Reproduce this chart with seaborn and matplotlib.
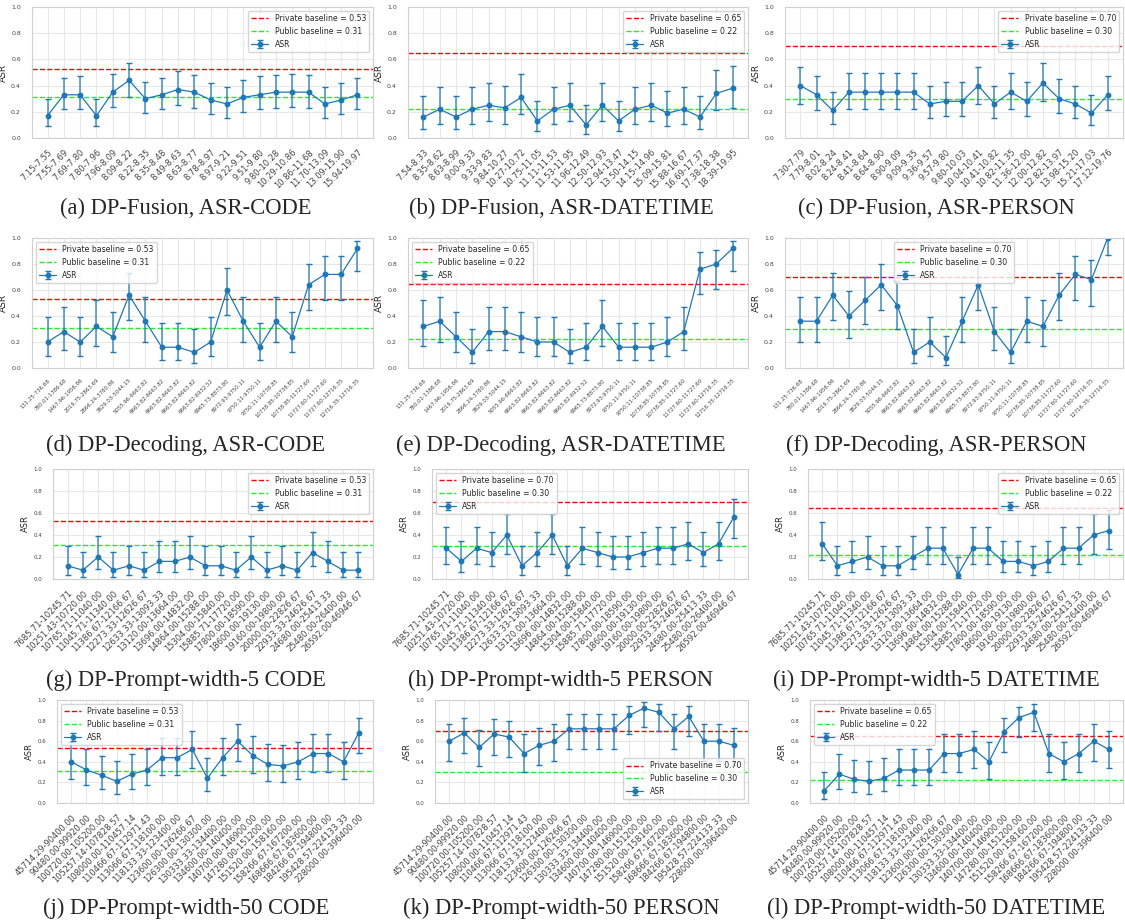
import numpy as np
import matplotlib
matplotlib.use("Agg")
import matplotlib.pyplot as plt
from matplotlib.ticker import FormatStrFormatter
import seaborn as sns

# ---- bin labels ----
fusion_code_bins = ["7.15-7.55", "7.55-7.69", "7.69-7.80", "7.80-7.96", "7.96-8.09",
                    "8.09-8.22", "8.22-8.35", "8.35-8.48", "8.49-8.63", "8.63-8.77",
                    "8.78-8.97", "8.97-9.21", "9.22-9.51", "9.51-9.80", "9.80-10.28",
                    "10.29-10.86", "10.86-11.68", "11.70-13.09", "13.09-15.90", "15.94-19.97"]
fusion_date_bins = ["7.54-8.33", "8.35-8.62", "8.63-8.99", "9.00-9.33", "9.33-9.83",
                    "9.84-10.27", "10.27-10.72", "10.75-11.05", "11.11-11.53", "11.53-11.95",
                    "11.96-12.49", "12.50-12.93", "12.94-13.47", "13.50-14.15", "14.15-14.96",
                    "15.09-15.81", "15.88-16.67", "16.69-17.37", "17.38-18.38", "18.39-19.95"]
fusion_person_bins = ["7.30-7.79", "7.79-8.01", "8.02-8.24", "8.24-8.41", "8.41-8.64",
                      "8.64-8.90", "8.90-9.09", "9.09-9.35", "9.36-9.57", "9.57-9.80",
                      "9.80-10.03", "10.04-10.41", "10.41-10.82", "10.82-11.35", "11.36-12.00",
                      "12.00-12.82", "12.82-13.97", "13.98-15.20", "15.21-17.03", "17.12-19.76"]
decoding_bins = ["131.25-736.68", "780.01-1386.68", "1467.96-1956.86", "2019.75-2863.69",
                 "2866.24-3780.86", "3829.03-5044.15", "5055.96-6663.82", "6663.82-6663.82",
                 "6663.82-6663.82", "6663.82-6663.82", "6663.82-6932.52", "6965.73-8873.80",
                 "8972.93-9750.11", "9750.11-9750.11", "9750.11-10738.85", "10738.85-10738.85",
                 "10738.85-11727.60", "11727.60-11727.60", "11727.60-12716.35", "12716.35-12716.35"]
prompt5_bins = ["7685.71-10245.71", "10251.43-10720.00", "10765.71-11040.00", "11045.71-11340.00",
                "11386.67-12166.67", "12273.33-12626.67", "12633.33-13093.33", "13120.00-13664.00",
                "13696.00-14832.00", "14864.00-15288.00", "15304.00-15840.00", "15885.71-17720.00",
                "17800.00-18590.00", "18600.00-19130.00", "19160.00-19800.00", "20000.00-22826.67",
                "22933.33-24626.67", "24680.00-25413.33", "25480.00-26400.00", "26592.00-46946.67"]
prompt50_bins = ["45714.29-90400.00", "90480.00-99920.00", "100720.00-105200.00",
                 "105257.14-107828.57", "108000.00-110457.14", "110466.67-112971.43",
                 "113066.67-118100.00", "118133.33-123400.00", "123600.00-126266.67",
                 "126300.00-130300.00", "130333.33-134400.00", "134600.00-140400.00",
                 "140700.00-146900.00", "147280.00-151200.00", "151520.00-158160.00",
                 "158266.67-167200.00", "168666.67-183600.00", "184266.67-194800.00",
                 "195428.57-224133.33", "228000.00-396400.00"]

# ---- ASR values with lower / upper interval bounds ----
fusion_code_asr = [0.17, 0.33, 0.33, 0.17, 0.35, 0.44, 0.30, 0.33, 0.37, 0.35,
                   0.29, 0.26, 0.31, 0.33, 0.35, 0.35, 0.35, 0.26, 0.29, 0.33]
fusion_code_lo = [0.09, 0.22, 0.22, 0.09, 0.24, 0.31, 0.19, 0.22, 0.25, 0.23,
                  0.18, 0.15, 0.20, 0.22, 0.23, 0.24, 0.23, 0.15, 0.18, 0.22]
fusion_code_hi = [0.30, 0.46, 0.47, 0.30, 0.49, 0.57, 0.43, 0.46, 0.51, 0.48,
                  0.42, 0.39, 0.44, 0.47, 0.48, 0.49, 0.48, 0.39, 0.42, 0.46]

fusion_date_asr = [0.16, 0.22, 0.16, 0.22, 0.25, 0.23, 0.31, 0.13, 0.22, 0.25,
                   0.10, 0.25, 0.13, 0.22, 0.25, 0.19, 0.22, 0.16, 0.34, 0.38]
fusion_date_lo = [0.07, 0.11, 0.07, 0.11, 0.13, 0.11, 0.18, 0.05, 0.11, 0.13,
                  0.03, 0.13, 0.05, 0.11, 0.13, 0.09, 0.11, 0.07, 0.21, 0.23]
fusion_date_hi = [0.32, 0.39, 0.32, 0.39, 0.42, 0.40, 0.49, 0.28, 0.39, 0.42,
                  0.25, 0.42, 0.28, 0.39, 0.42, 0.36, 0.39, 0.32, 0.52, 0.55]

fusion_person_asr = [0.40, 0.33, 0.21, 0.35, 0.35, 0.35, 0.35, 0.35, 0.26, 0.28,
                     0.28, 0.40, 0.26, 0.35, 0.28, 0.42, 0.30, 0.26, 0.19, 0.33]
fusion_person_lo = [0.26, 0.21, 0.11, 0.22, 0.22, 0.22, 0.22, 0.22, 0.15, 0.17,
                    0.17, 0.26, 0.15, 0.22, 0.17, 0.28, 0.19, 0.15, 0.10, 0.21]
fusion_person_hi = [0.54, 0.47, 0.35, 0.50, 0.50, 0.50, 0.50, 0.50, 0.40, 0.43,
                    0.43, 0.54, 0.40, 0.50, 0.43, 0.57, 0.45, 0.40, 0.33, 0.47]

decoding_code_asr = [0.20, 0.28, 0.20, 0.32, 0.24, 0.56, 0.36, 0.16, 0.16, 0.12,
                     0.20, 0.60, 0.36, 0.16, 0.36, 0.24, 0.64, 0.72, 0.72, 0.92]
decoding_code_lo = [0.09, 0.14, 0.09, 0.17, 0.12, 0.37, 0.20, 0.06, 0.06, 0.04,
                    0.09, 0.41, 0.20, 0.06, 0.20, 0.12, 0.45, 0.52, 0.52, 0.75]
decoding_code_hi = [0.39, 0.47, 0.39, 0.52, 0.43, 0.73, 0.55, 0.35, 0.35, 0.30,
                    0.39, 0.77, 0.55, 0.35, 0.55, 0.43, 0.80, 0.86, 0.86, 0.98]

decoding_date_asr = [0.32, 0.36, 0.24, 0.12, 0.28, 0.28, 0.24, 0.20, 0.20, 0.12,
                     0.16, 0.32, 0.16, 0.16, 0.16, 0.20, 0.28, 0.76, 0.80, 0.92]
decoding_date_lo = [0.17, 0.20, 0.12, 0.04, 0.14, 0.14, 0.12, 0.09, 0.09, 0.04,
                    0.06, 0.17, 0.06, 0.06, 0.06, 0.09, 0.14, 0.57, 0.61, 0.75]
decoding_date_hi = [0.52, 0.55, 0.43, 0.30, 0.47, 0.47, 0.43, 0.39, 0.39, 0.30,
                    0.35, 0.52, 0.35, 0.35, 0.35, 0.39, 0.47, 0.89, 0.91, 0.98]

decoding_person_asr = [0.36, 0.36, 0.56, 0.40, 0.52, 0.64, 0.48, 0.12, 0.20, 0.08,
                       0.36, 0.64, 0.28, 0.12, 0.36, 0.32, 0.56, 0.72, 0.68, 1.00]
decoding_person_lo = [0.20, 0.20, 0.37, 0.23, 0.34, 0.45, 0.30, 0.04, 0.09, 0.02,
                      0.20, 0.45, 0.14, 0.04, 0.20, 0.17, 0.37, 0.52, 0.48, 0.87]
decoding_person_hi = [0.55, 0.55, 0.73, 0.59, 0.70, 0.80, 0.67, 0.30, 0.39, 0.25,
                      0.55, 0.80, 0.47, 0.30, 0.55, 0.52, 0.73, 0.86, 0.83, 1.00]

prompt5_code_asr = [0.12, 0.08, 0.20, 0.08, 0.12, 0.08, 0.16, 0.16, 0.20, 0.12,
                    0.12, 0.08, 0.20, 0.08, 0.12, 0.08, 0.24, 0.16, 0.08, 0.08]
prompt5_code_lo = [0.04, 0.02, 0.09, 0.02, 0.04, 0.02, 0.06, 0.06, 0.09, 0.04,
                   0.04, 0.02, 0.09, 0.02, 0.04, 0.02, 0.12, 0.06, 0.02, 0.02]
prompt5_code_hi = [0.30, 0.25, 0.39, 0.25, 0.30, 0.25, 0.35, 0.35, 0.39, 0.30,
                   0.30, 0.25, 0.39, 0.25, 0.30, 0.25, 0.43, 0.35, 0.25, 0.25]

prompt5_person_asr = [0.28, 0.16, 0.28, 0.24, 0.40, 0.12, 0.24, 0.40, 0.12, 0.28,
                      0.24, 0.20, 0.20, 0.24, 0.28, 0.28, 0.32, 0.24, 0.32, 0.56]
prompt5_person_lo = [0.14, 0.06, 0.14, 0.12, 0.23, 0.04, 0.12, 0.23, 0.04, 0.14,
                     0.12, 0.09, 0.09, 0.12, 0.14, 0.14, 0.17, 0.12, 0.17, 0.37]
prompt5_person_hi = [0.47, 0.35, 0.47, 0.43, 0.59, 0.30, 0.43, 0.59, 0.30, 0.47,
                     0.43, 0.39, 0.39, 0.43, 0.47, 0.47, 0.52, 0.43, 0.52, 0.73]

prompt5_date_asr = [0.32, 0.12, 0.16, 0.20, 0.12, 0.12, 0.20, 0.28, 0.28, 0.04,
                    0.28, 0.28, 0.16, 0.16, 0.12, 0.16, 0.28, 0.28, 0.40, 0.44]
prompt5_date_lo = [0.17, 0.04, 0.06, 0.09, 0.04, 0.04, 0.09, 0.14, 0.14, 0.01,
                   0.14, 0.14, 0.06, 0.06, 0.04, 0.06, 0.14, 0.14, 0.23, 0.27]
prompt5_date_hi = [0.52, 0.30, 0.35, 0.39, 0.30, 0.30, 0.39, 0.47, 0.47, 0.20,
                   0.47, 0.47, 0.35, 0.35, 0.30, 0.35, 0.47, 0.47, 0.59, 0.63]

prompt50_code_asr = [0.40, 0.32, 0.27, 0.21, 0.28, 0.32, 0.44, 0.44, 0.52, 0.24,
                     0.44, 0.60, 0.46, 0.375, 0.36, 0.40, 0.48, 0.48, 0.40, 0.68]
prompt50_code_lo = [0.23, 0.17, 0.14, 0.09, 0.14, 0.17, 0.27, 0.27, 0.34, 0.12,
                    0.27, 0.41, 0.29, 0.21, 0.20, 0.23, 0.30, 0.30, 0.23, 0.49]
prompt50_code_hi = [0.59, 0.52, 0.46, 0.41, 0.48, 0.52, 0.63, 0.63, 0.70, 0.44,
                    0.63, 0.77, 0.65, 0.57, 0.56, 0.59, 0.67, 0.67, 0.59, 0.83]

prompt50_person_asr = [0.60, 0.68, 0.54, 0.67, 0.64, 0.48, 0.56, 0.60, 0.72, 0.72,
                       0.72, 0.72, 0.85, 0.92, 0.88, 0.72, 0.84, 0.60, 0.60, 0.56]
prompt50_person_lo = [0.41, 0.49, 0.36, 0.47, 0.45, 0.30, 0.37, 0.41, 0.52, 0.52,
                      0.52, 0.52, 0.67, 0.74, 0.70, 0.52, 0.65, 0.41, 0.41, 0.37]
prompt50_person_hi = [0.77, 0.83, 0.71, 0.82, 0.80, 0.67, 0.73, 0.77, 0.86, 0.86,
                      0.86, 0.86, 0.94, 0.98, 0.96, 0.86, 0.94, 0.77, 0.77, 0.73]

prompt50_date_asr = [0.12, 0.28, 0.23, 0.21, 0.24, 0.32, 0.32, 0.32, 0.48, 0.48,
                     0.52, 0.40, 0.69, 0.83, 0.88, 0.48, 0.40, 0.48, 0.60, 0.52]
prompt50_date_lo = [0.04, 0.14, 0.11, 0.09, 0.12, 0.17, 0.17, 0.17, 0.30, 0.30,
                    0.34, 0.23, 0.50, 0.64, 0.70, 0.30, 0.23, 0.30, 0.41, 0.34]
prompt50_date_hi = [0.30, 0.48, 0.42, 0.41, 0.44, 0.52, 0.52, 0.52, 0.67, 0.67,
                    0.70, 0.59, 0.83, 0.93, 0.96, 0.67, 0.59, 0.67, 0.77, 0.70]

# baselines (private, public)
code_base = (0.53, 0.31)
date_base = (0.65, 0.22)
person_base = (0.70, 0.30)

captions = ["(a) DP-Fusion, ASR-CODE", "(b) DP-Fusion, ASR-DATETIME", "(c) DP-Fusion, ASR-PERSON",
            "(d) DP-Decoding, ASR-CODE", "(e) DP-Decoding, ASR-DATETIME", "(f) DP-Decoding, ASR-PERSON",
            "(g) DP-Prompt-width-5 CODE", "(h) DP-Prompt-width-5 PERSON", "(i) DP-Prompt-width-5 DATETIME",
            "(j) DP-Prompt-width-50 CODE", "(k) DP-Prompt-width-50 PERSON", "(l) DP-Prompt-width-50 DATETIME"]

panels = [
    (fusion_code_bins, fusion_code_asr, fusion_code_lo, fusion_code_hi, code_base),
    (fusion_date_bins, fusion_date_asr, fusion_date_lo, fusion_date_hi, date_base),
    (fusion_person_bins, fusion_person_asr, fusion_person_lo, fusion_person_hi, person_base),
    (decoding_bins, decoding_code_asr, decoding_code_lo, decoding_code_hi, code_base),
    (decoding_bins, decoding_date_asr, decoding_date_lo, decoding_date_hi, date_base),
    (decoding_bins, decoding_person_asr, decoding_person_lo, decoding_person_hi, person_base),
    (prompt5_bins, prompt5_code_asr, prompt5_code_lo, prompt5_code_hi, code_base),
    (prompt5_bins, prompt5_person_asr, prompt5_person_lo, prompt5_person_hi, person_base),
    (prompt5_bins, prompt5_date_asr, prompt5_date_lo, prompt5_date_hi, date_base),
    (prompt50_bins, prompt50_code_asr, prompt50_code_lo, prompt50_code_hi, code_base),
    (prompt50_bins, prompt50_person_asr, prompt50_person_lo, prompt50_person_hi, person_base),
    (prompt50_bins, prompt50_date_asr, prompt50_date_lo, prompt50_date_hi, date_base),
]

legend_locs = ["upper right", "upper right", "upper right",
               "upper left", "upper left", "upper center",
               "upper right", "upper left", "upper right",
               "upper left", "lower right", "upper left"]

# layout in pixels
W, H = 1125, 924
row_top = [7, 238, 469, 700]
row_bottom = [138, 368, 579, 803]
row_lefts = [[32, 408, 785], [32, 408, 785], [53, 432, 808], [57, 435, 810]]
col_rights = [373, 748, 1123]
caption_y = [208, 445, 680, 908]
caption_x = [186, 561, 936]
xtick_size = [6.0, 3.9, 6.0, 6.0]
ytick_size = [4.5, 4.5, 4.0, 4.0]
ylabel_size = [6.5, 6.5, 6.0, 6.0]

sns.set_theme(style="whitegrid")
plt.rcParams['font.family'] = ['DejaVu Sans']

fig = plt.figure(figsize=(W / 100, H / 100), dpi=100)
blue = '#1f77b4'

for i, (bins, asr, lo, hi, base) in enumerate(panels):
    r, c = divmod(i, 3)
    left = row_lefts[r][c]
    rect = [left / W, 1 - row_bottom[r] / H,
            (col_rights[c] - left) / W, (row_bottom[r] - row_top[r]) / H]
    ax = fig.add_axes(rect)

    x = np.arange(len(bins))
    asr = np.array(asr)
    yerr = [asr - np.array(lo), np.array(hi) - asr]

    ax.axhline(base[0], color='red', ls='--', lw=1.0, label=f'Private baseline = {base[0]:.2f}')
    ax.axhline(base[1], color='#22ee22', ls='--', lw=1.0, label=f'Public baseline = {base[1]:.2f}')
    cont = ax.errorbar(x, asr, yerr=yerr, fmt='-o', color=blue, ms=3.2, lw=0.9,
                       capsize=2.2, elinewidth=1.3, capthick=1.0, label='ASR')
    for bl in cont[2]:
        bl.set_alpha(0.7)

    ax.set_ylim(0, 1.0)
    ax.set_yticks(np.arange(0, 1.01, 0.2))
    ax.yaxis.set_major_formatter(FormatStrFormatter('%.1f'))
    ax.set_xticks(x)
    ax.set_xticklabels(bins, rotation=45, ha='right', rotation_mode='anchor')
    ax.tick_params(axis='x', labelsize=xtick_size[r], pad=1, colors='#444444')
    ax.tick_params(axis='y', labelsize=ytick_size[r], pad=2, colors='#444444')
    ax.set_ylabel('ASR', fontsize=ylabel_size[r], labelpad=2)
    ax.grid(color='#e8e8e8', lw=0.8)
    for sp in ax.spines.values():
        sp.set_color('#d0d0d0')
        sp.set_linewidth(0.8)

    ax.legend(loc=legend_locs[i], fontsize=5.6, frameon=True, framealpha=0.8,
              edgecolor='#cccccc', borderpad=0.4, handlelength=2.2)

    fig.text(caption_x[c] / W, 1 - caption_y[r] / H, captions[i],
             ha='center', va='center', fontsize=16.3, family=['Liberation Serif'])

fig.savefig('out.png', dpi=100)
